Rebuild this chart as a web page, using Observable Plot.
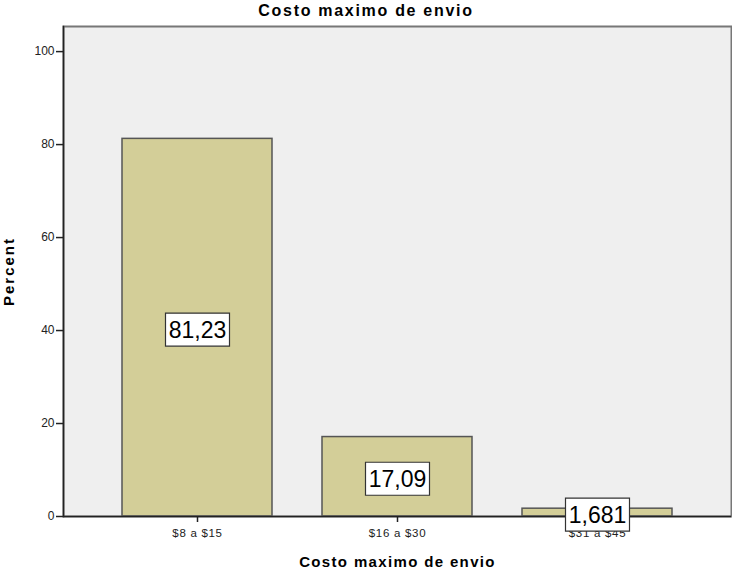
<!DOCTYPE html>
<html>
<head>
<meta charset="utf-8">
<script src="https://cdn.jsdelivr.net/npm/d3@7"></script>
<script src="https://cdn.jsdelivr.net/npm/@observablehq/plot@0.6"></script>
<style>
body { margin: 0; background: #fff; font-family: Arial, "Liberation Sans", sans-serif; }
#title { height: 24px; line-height: 22px; width: 732px; text-align: center; font-weight: bold; font-size: 16px; letter-spacing: 1.7px; color: #000; }
</style>
</head>
<body>
<div id="title">Costo maximo de envio</div>
<div id="chart"></div>
<script>
const categories = ["$8 a $15", "$16 a $30", "$31 a $45"];
const percents = [81.23, 17.09, 1.681];
const labels = ["81,23", "17,09", "1,681"];
const yTicks = [0, 20, 40, 60, 80, 100];

const data = categories.map((c, i) => ({cat: c, pct: percents[i], label: labels[i]}));
const yMax = 105.4;

const boxSymbol = {
  draw(context, size) {
    context.moveTo(-32, -16.5);
    context.lineTo(32, -16.5);
    context.lineTo(32, 16.5);
    context.lineTo(-32, 16.5);
    context.closePath();
  }
};

const chart = Plot.plot({
  width: 732,
  height: 547,
  marginTop: 2,
  marginRight: 1,
  marginBottom: 55,
  marginLeft: 63,
  style: {fontFamily: "Arial, 'Liberation Sans', sans-serif", background: "transparent"},
  x: {domain: categories, paddingInner: 0.25, paddingOuter: 0.295, label: null},
  y: {domain: [0, yMax], label: null},
  marks: [
    Plot.frame({fill: "#EFEFEF", stroke: null}),
    Plot.barY(data, {x: "cat", y: "pct", fill: "#D3CE98", stroke: "#555", strokeWidth: 1.5}),
    Plot.frame({stroke: "#777", strokeWidth: 2}),
    Plot.ruleY([0], {stroke: "#222", strokeWidth: 1.5}),
    Plot.frame({anchor: "left", stroke: "#222", strokeWidth: 1.5}),
    Plot.axisY({ticks: yTicks, tickSize: 7, tickPadding: 2, fontSize: 12, label: null, stroke: "#222", strokeWidth: 1.5, fill: "#222"}),
    Plot.axisX({tickSize: 6, tickPadding: 6, fontSize: 11.5, label: null, stroke: "#222", strokeWidth: 1.5, fill: "#222"}),
    Plot.dot(data, {x: "cat", y: d => d.pct / 2, symbol: boxSymbol, r: 5, fill: "white", stroke: "#333", strokeWidth: 1.2, dy: 2}),
    Plot.text(data, {x: "cat", y: d => d.pct / 2, text: "label", fontSize: 23, fill: "#000", dy: 3}),
    Plot.text(["Percent"], {frameAnchor: "left", textAnchor: "middle", dx: -54, rotate: -90, text: d => d, fontWeight: "bold", fontSize: 15, fill: "#000"}),
    Plot.text(["Costo maximo de envio"], {frameAnchor: "bottom", dy: 50, text: d => d, fontWeight: "bold", fontSize: 15, fill: "#000"})
  ]
});
const svg = d3.select(chart);
svg.selectAll('g[aria-label="x-axis tick label"] text').attr("letter-spacing", "0.7px");
svg.selectAll("text").filter(function() { return this.textContent === "Percent"; }).attr("letter-spacing", "2px");
svg.selectAll("text").filter(function() { return this.textContent === "Costo maximo de envio"; }).attr("letter-spacing", "1.35px");
document.getElementById("chart").appendChild(chart);
</script>
</body>
</html>
